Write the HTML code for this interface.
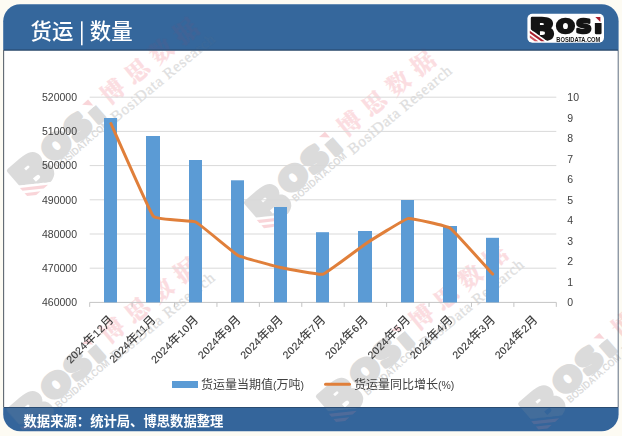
<!DOCTYPE html>
<html lang="zh"><head><meta charset="utf-8"><title>货运 | 数量</title>
<style>
html,body{margin:0;padding:0;background:#fdfbf3;}
body{width:622px;height:436px;overflow:hidden;}
svg{display:block;}
text{font-family:"Liberation Sans","Noto Sans CJK SC",sans-serif;}
.cj{font-family:"Noto Sans CJK SC","Liberation Sans",sans-serif;}
.ax{font-size:10.5px;fill:#404040;}
.axc{font-size:12px;}
.lg{font-family:"DejaVu Sans","Liberation Sans",sans-serif;font-weight:bold;}
.lgs{font-family:"Liberation Sans",sans-serif;font-weight:bold;}
.wm-k{font-family:"Noto Serif CJK SC","Liberation Serif",serif;font-weight:900;}
.wm-r{font-family:"Liberation Serif",serif;}
</style></head><body>
<svg width="622" height="436" viewBox="0 0 622 436">
<defs>
<clipPath id="frame"><rect x="3.2" y="4.2" width="615.4" height="427" rx="17" ry="17"/></clipPath>
<clipPath id="lgclip"><rect x="26" y="0" width="39.8" height="22"/><rect x="65.8" y="9.2" width="10" height="14"/></clipPath>
<clipPath id="bodyclip"><rect x="0" y="50.8" width="622" height="356.2"/></clipPath>
<clipPath id="hfclip"><rect x="3.4" y="4.4" width="615.2" height="46.4"/><rect x="3.4" y="407" width="615.2" height="24.2"/></clipPath>
<clipPath id="bclip"><polygon points="0,-2 32,-2 32,32 26.6,32 0,13.4"/></clipPath>
<g id="wm">
<g transform="translate(-137.5,-10.7) rotate(-1.7) scale(1.55)" opacity="0.37">
<polygon fill="#f0909a" points="2.4,17.1 17.3,27.5 13.7,27.5 2.4,19.6"/><polygon fill="#f0909a" points="2.4,21.6 10.9,27.5 7.3,27.5 2.4,24.1"/><polygon fill="#f0909a" points="67.9,3.2 73,3.2 73,8.2"/>
<g clip-path="url(#bclip)"><text class="lg" transform="translate(1.55,26.2) scale(1.13,1)" font-size="30.4" fill="#a0a0a0" stroke="#a0a0a0" stroke-width="2.9" stroke-linejoin="round">B</text></g>
<g clip-path="url(#lgclip)"><text class="lg" transform="translate(0,19.0) scale(1.125,1)" x="25.6 43.3 59.6" font-size="19.3" fill="#a0a0a0" stroke="#a0a0a0" stroke-width="3.1" stroke-linejoin="round">OSi</text></g>
<text class="lgs" transform="translate(28.9,25.00) scale(0.87,1)" font-size="6.6" fill="#a0a0a0">BOSIDATA.COM</text>
</g>
 <text class="wm-k" x="-11.75" y="8.8" font-size="23.5" fill="#e8384c" stroke="#e8384c" stroke-width="0.25" opacity="0.17" letter-spacing="8.1">博思数据</text>
 <text class="wm-r" x="-17.5" y="26.6" font-size="15.5" fill="#7a7a7a" stroke="#7a7a7a" stroke-width="0.35" opacity="0.24" textLength="129.5" lengthAdjust="spacing">BosiData Research</text>
</g>
</defs>
<g clip-path="url(#frame)">
<rect x="0" y="0" width="622" height="436" fill="#ffffff"/>
<rect x="0" y="0" width="622" height="50" fill="#35679c"/>
<rect x="0" y="407.4" width="622" height="30" fill="#34659b"/>
</g>
<g clip-path="url(#bodyclip)">
<use href="#wm" transform="translate(112.6,91.2) rotate(-39.5)"/>
<use href="#wm" transform="translate(349.5,123.3) rotate(-39.5)"/>
<use href="#wm" transform="translate(112.5,330.2) rotate(-39.5)"/>
<use href="#wm" transform="translate(421.5,317.1) rotate(-39.5)"/>
<use href="#wm" transform="translate(623.9,324.6) rotate(-39.5)"/>
</g>
<g clip-path="url(#hfclip)" opacity="0.4">
<use href="#wm" transform="translate(112.6,91.2) rotate(-39.5)"/>
<use href="#wm" transform="translate(349.5,123.3) rotate(-39.5)"/>
<use href="#wm" transform="translate(112.5,330.2) rotate(-39.5)"/>
<use href="#wm" transform="translate(421.5,317.1) rotate(-39.5)"/>
<use href="#wm" transform="translate(623.9,324.6) rotate(-39.5)"/>
</g>
<line x1="3.6" y1="50" x2="3.6" y2="407.5" stroke="#5d6670" stroke-width="1.1"/>
<line x1="618.2" y1="50" x2="618.2" y2="407.5" stroke="#4d5f74" stroke-width="0.9"/>
<line x1="4" y1="50.2" x2="618" y2="50.2" stroke="#27476a" stroke-width="1.2"/>
<line x1="4" y1="407.5" x2="618" y2="407.5" stroke="#2a4c72" stroke-width="1"/>
<text class="cj" x="30.5" y="39" font-size="21.4" fill="#ffffff" font-weight="500">货运</text>
<rect x="81" y="21.3" width="1.6" height="24" fill="#ffffff"/>
<text class="cj" x="89.8" y="39" font-size="21.4" fill="#ffffff" font-weight="500">数量</text>
<rect x="527.4" y="13.7" width="76.6" height="29" rx="5" ry="5" fill="#ffffff"/>
<g transform="translate(527.4,13.7)">
<polygon fill="#a81e2c" points="2.4,17.1 17.3,27.5 13.7,27.5 2.4,19.6"/><polygon fill="#d0525e" points="2.4,21.6 10.9,27.5 7.3,27.5 2.4,24.1"/><polygon fill="#a81e2c" points="67.9,3.2 73,3.2 73,8.2"/>
<g clip-path="url(#bclip)"><text class="lg" transform="translate(1.55,26.2) scale(1.13,1)" font-size="30.4" fill="#141414" stroke="#141414" stroke-width="2.4" stroke-linejoin="round">B</text></g>
<g clip-path="url(#lgclip)"><text class="lg" transform="translate(0,19.0) scale(1.125,1)" x="25.6 43.3 59.6" font-size="19.3" fill="#141414" stroke="#141414" stroke-width="2.6" stroke-linejoin="round">OSi</text></g>
<text class="lgs" transform="translate(28.9,28.00) scale(0.87,1)" font-size="6.6" fill="#141414">BOSIDATA.COM</text>
</g>
<line x1="89.7" y1="97.20" x2="556.3" y2="97.20" stroke="#d9d9d9" stroke-width="1"/>
<line x1="89.7" y1="131.40" x2="556.3" y2="131.40" stroke="#d9d9d9" stroke-width="1"/>
<line x1="89.7" y1="165.60" x2="556.3" y2="165.60" stroke="#d9d9d9" stroke-width="1"/>
<line x1="89.7" y1="199.80" x2="556.3" y2="199.80" stroke="#d9d9d9" stroke-width="1"/>
<line x1="89.7" y1="234.00" x2="556.3" y2="234.00" stroke="#d9d9d9" stroke-width="1"/>
<line x1="89.7" y1="268.20" x2="556.3" y2="268.20" stroke="#d9d9d9" stroke-width="1"/>
<line x1="89.7" y1="302.40" x2="556.3" y2="302.40" stroke="#c4c4c4" stroke-width="1"/>
<line x1="89.70" y1="302.40" x2="89.70" y2="306.90" stroke="#c4c4c4" stroke-width="1"/>
<line x1="132.12" y1="302.40" x2="132.12" y2="306.90" stroke="#c4c4c4" stroke-width="1"/>
<line x1="174.54" y1="302.40" x2="174.54" y2="306.90" stroke="#c4c4c4" stroke-width="1"/>
<line x1="216.95" y1="302.40" x2="216.95" y2="306.90" stroke="#c4c4c4" stroke-width="1"/>
<line x1="259.37" y1="302.40" x2="259.37" y2="306.90" stroke="#c4c4c4" stroke-width="1"/>
<line x1="301.79" y1="302.40" x2="301.79" y2="306.90" stroke="#c4c4c4" stroke-width="1"/>
<line x1="344.21" y1="302.40" x2="344.21" y2="306.90" stroke="#c4c4c4" stroke-width="1"/>
<line x1="386.63" y1="302.40" x2="386.63" y2="306.90" stroke="#c4c4c4" stroke-width="1"/>
<line x1="429.05" y1="302.40" x2="429.05" y2="306.90" stroke="#c4c4c4" stroke-width="1"/>
<line x1="471.46" y1="302.40" x2="471.46" y2="306.90" stroke="#c4c4c4" stroke-width="1"/>
<line x1="513.88" y1="302.40" x2="513.88" y2="306.90" stroke="#c4c4c4" stroke-width="1"/>
<line x1="556.30" y1="302.40" x2="556.30" y2="306.90" stroke="#c4c4c4" stroke-width="1"/>
<rect x="104" y="118" width="13" height="184.40" fill="#5b9bd5"/>
<rect x="146" y="136" width="14" height="166.40" fill="#5b9bd5"/>
<rect x="189" y="160" width="13" height="142.40" fill="#5b9bd5"/>
<rect x="231" y="180.3" width="13" height="122.10" fill="#5b9bd5"/>
<rect x="274" y="207" width="13" height="95.40" fill="#5b9bd5"/>
<rect x="316" y="232.2" width="13" height="70.20" fill="#5b9bd5"/>
<rect x="358" y="231" width="14" height="71.40" fill="#5b9bd5"/>
<rect x="401" y="200" width="13" height="102.40" fill="#5b9bd5"/>
<rect x="443" y="226" width="14" height="76.40" fill="#5b9bd5"/>
<rect x="486" y="237.8" width="13" height="64.60" fill="#5b9bd5"/>
<path d="M110.91,123.50 C112.61,127.21 149.93,212.36 153.33,216.30 C156.72,220.24 192.35,220.43 195.75,222.00 C199.14,223.57 234.77,253.68 238.16,255.50 C241.56,257.32 277.19,266.75 280.58,267.50 C283.98,268.25 319.61,275.14 323.00,274.20 C326.39,273.26 362.02,246.12 365.42,243.90 C368.81,241.68 404.44,219.23 407.84,218.60 C411.23,217.97 446.86,225.98 450.25,228.20 C453.65,230.42 490.98,272.26 492.67,274.10" fill="none" stroke="#e07f3a" stroke-width="3" stroke-linecap="round" stroke-linejoin="round"/>
<text class="ax" x="77" y="101.00" text-anchor="end">520000</text>
<text class="ax" x="77" y="135.20" text-anchor="end">510000</text>
<text class="ax" x="77" y="169.40" text-anchor="end">500000</text>
<text class="ax" x="77" y="203.60" text-anchor="end">490000</text>
<text class="ax" x="77" y="237.80" text-anchor="end">480000</text>
<text class="ax" x="77" y="272.00" text-anchor="end">470000</text>
<text class="ax" x="77" y="306.20" text-anchor="end">460000</text>
<text class="ax" x="567.3" y="306.20">0</text>
<text class="ax" x="567.3" y="285.68">1</text>
<text class="ax" x="567.3" y="265.16">2</text>
<text class="ax" x="567.3" y="244.64">3</text>
<text class="ax" x="567.3" y="224.12">4</text>
<text class="ax" x="567.3" y="203.60">5</text>
<text class="ax" x="567.3" y="183.08">6</text>
<text class="ax" x="567.3" y="162.56">7</text>
<text class="ax" x="567.3" y="142.04">8</text>
<text class="ax" x="567.3" y="121.52">9</text>
<text class="ax" x="567.3" y="101.00">10</text>
<text class="ax" style="fill:#383838" stroke="#383838" stroke-width="0.12" letter-spacing="0.35" transform="translate(114.41,320.20) rotate(-45)" text-anchor="end">2024<tspan class="cj axc">年</tspan>12<tspan class="cj axc">月</tspan></text>
<text class="ax" style="fill:#383838" stroke="#383838" stroke-width="0.12" letter-spacing="0.35" transform="translate(156.83,320.20) rotate(-45)" text-anchor="end">2024<tspan class="cj axc">年</tspan>11<tspan class="cj axc">月</tspan></text>
<text class="ax" style="fill:#383838" stroke="#383838" stroke-width="0.12" letter-spacing="0.35" transform="translate(199.25,320.20) rotate(-45)" text-anchor="end">2024<tspan class="cj axc">年</tspan>10<tspan class="cj axc">月</tspan></text>
<text class="ax" style="fill:#383838" stroke="#383838" stroke-width="0.12" letter-spacing="0.35" transform="translate(241.66,320.20) rotate(-45)" text-anchor="end">2024<tspan class="cj axc">年</tspan>9<tspan class="cj axc">月</tspan></text>
<text class="ax" style="fill:#383838" stroke="#383838" stroke-width="0.12" letter-spacing="0.35" transform="translate(284.08,320.20) rotate(-45)" text-anchor="end">2024<tspan class="cj axc">年</tspan>8<tspan class="cj axc">月</tspan></text>
<text class="ax" style="fill:#383838" stroke="#383838" stroke-width="0.12" letter-spacing="0.35" transform="translate(326.50,320.20) rotate(-45)" text-anchor="end">2024<tspan class="cj axc">年</tspan>7<tspan class="cj axc">月</tspan></text>
<text class="ax" style="fill:#383838" stroke="#383838" stroke-width="0.12" letter-spacing="0.35" transform="translate(368.92,320.20) rotate(-45)" text-anchor="end">2024<tspan class="cj axc">年</tspan>6<tspan class="cj axc">月</tspan></text>
<text class="ax" style="fill:#383838" stroke="#383838" stroke-width="0.12" letter-spacing="0.35" transform="translate(411.34,320.20) rotate(-45)" text-anchor="end">2024<tspan class="cj axc">年</tspan>5<tspan class="cj axc">月</tspan></text>
<text class="ax" style="fill:#383838" stroke="#383838" stroke-width="0.12" letter-spacing="0.35" transform="translate(453.75,320.20) rotate(-45)" text-anchor="end">2024<tspan class="cj axc">年</tspan>4<tspan class="cj axc">月</tspan></text>
<text class="ax" style="fill:#383838" stroke="#383838" stroke-width="0.12" letter-spacing="0.35" transform="translate(496.17,320.20) rotate(-45)" text-anchor="end">2024<tspan class="cj axc">年</tspan>3<tspan class="cj axc">月</tspan></text>
<text class="ax" style="fill:#383838" stroke="#383838" stroke-width="0.12" letter-spacing="0.35" transform="translate(538.59,320.20) rotate(-45)" text-anchor="end">2024<tspan class="cj axc">年</tspan>2<tspan class="cj axc">月</tspan></text>
<rect x="172" y="381" width="26" height="7" fill="#5b9bd5"/>
<text class="ax" x="201" y="388.6"><tspan class="cj axc">货运量当期值</tspan>(<tspan class="cj axc">万吨</tspan>)</text>
<line x1="325.5" y1="384.2" x2="349.5" y2="384.2" stroke="#e07f3a" stroke-width="3" stroke-linecap="round"/>
<text class="ax" x="354" y="388.6"><tspan class="cj axc">货运量同比增长</tspan>(%)</text>
<text class="cj" x="23.5" y="426" font-size="13.33" font-weight="bold" fill="#ffffff">数据来源：统计局、博思数据整理</text>
</svg></body></html>
